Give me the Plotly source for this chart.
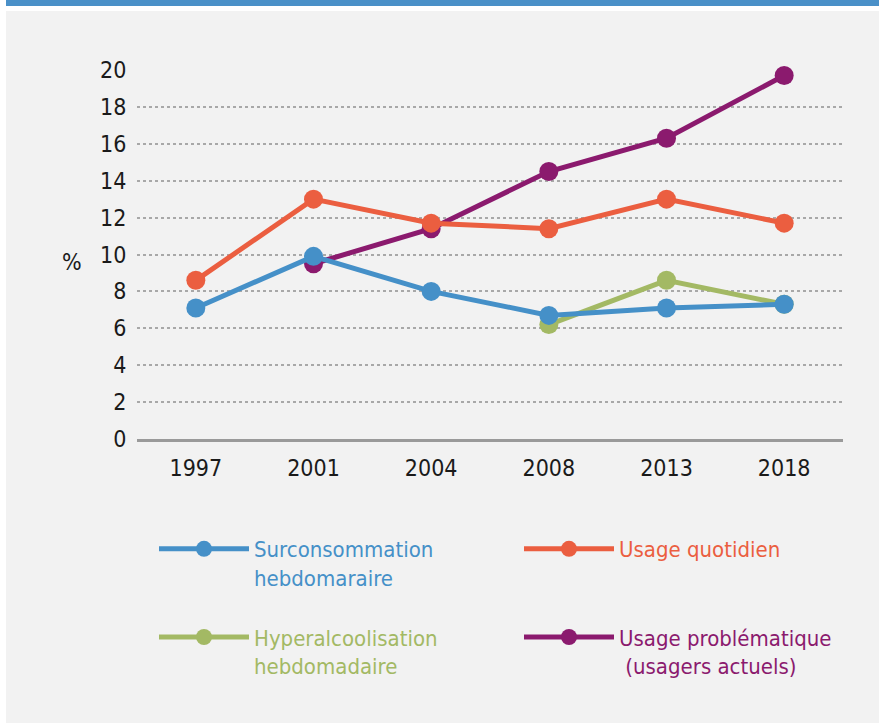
import plotly.graph_objects as go

years = ["1997", "2001", "2004", "2008", "2013", "2018"]
surconso = [7.1, 9.9, 8.0, 6.7, 7.1, 7.3]
quotidien = [8.6, 13.0, 11.7, 11.4, 13.0, 11.7]
hyperalcool = [None, None, None, 6.2, 8.6, 7.3]
problematique = [None, 9.5, 11.4, 14.5, 16.3, 19.7]

BLUE = "#4590c8"
ORANGE = "#eb5e40"
GREEN = "#a3b964"
PURPLE = "#8b1a6e"

FONT = "DejaVu Sans Condensed, DejaVu Sans, sans-serif"

W, H = 879, 724
L, R, T, B = 137, 36, 70, 285
PW, PH = W - L - R, H - T - B


def px(x):
    return (x - L) / PW


def py(y):
    return (H - B - y) / PH


def lbl(lines, color):
    return "<br>".join(f'<span style="color:{color}">{s}</span>' for s in lines)


# (values, colour, legend label, legend box, rank)
series = [
    (hyperalcool, GREEN, lbl(["Hyperalcoolisation", "hebdomadaire"], GREEN), "legend", 2),
    (problematique, PURPLE, lbl(["Usage problématique", "\u00a0(usagers actuels)"], PURPLE), "legend2", 2),
    (quotidien, ORANGE, lbl(["Usage quotidien", "\u00a0"], ORANGE), "legend2", 1),
    (surconso, BLUE, lbl(["Surconsommation", "hebdomaraire"], BLUE), "legend", 1),
]

fig = go.Figure()
for i, (vals, col, name, leg, rank) in enumerate(series):
    fig.add_trace(go.Scatter(
        x=years, y=vals, name=name, mode="lines+markers",
        line=dict(color=col, width=5),
        marker=dict(color=col, size=19),
        legend=leg, legendrank=rank, legendgroup=f"g{i}",
        cliponaxis=False, connectgaps=False,
        hoverinfo="x+y",
    ))

shapes = [
    dict(type="rect", xref="paper", yref="paper", x0=px(6), x1=px(W + 2), y0=py(723), y1=py(11),
         fillcolor="#f2f2f2", line=dict(width=0), layer="below"),
    dict(type="rect", xref="paper", yref="paper", x0=px(6), x1=px(W + 2), y0=py(6), y1=py(-2),
         fillcolor="#4a90c8", line=dict(width=0), layer="below"),
]

legend_common = dict(
    orientation="v", y=py(528), yanchor="top", xanchor="left",
    itemwidth=90, valign="top", tracegroupgap=28,
    font=dict(family=FONT, size=22), bgcolor="rgba(0,0,0,0)",
    traceorder="grouped", itemclick=False, itemdoubleclick=False,
)

fig.update_layout(
    width=W, height=H,
    margin=dict(l=L, r=R, t=T, b=B, autoexpand=False),
    paper_bgcolor="white",
    plot_bgcolor="rgba(0,0,0,0)",
    font=dict(family=FONT, size=23, color="#1a1a1a"),
    shapes=shapes,
    showlegend=True,
    legend=dict(x=px(154), **legend_common),
    legend2=dict(x=px(519), **legend_common),
    annotations=[dict(text="%", xref="paper", yref="paper", x=px(72), y=py(262),
                      xanchor="center", yanchor="middle",
                      showarrow=False, font=dict(family=FONT, size=23, color="#1a1a1a"))],
)

fig.update_xaxes(
    type="category", range=[-0.5, 5.5], showgrid=False,
    showline=True, linecolor="#9a9a9a", linewidth=2.5,
    ticks="outside", ticklen=7, tickcolor="rgba(0,0,0,0)",
    tickfont=dict(family=FONT, size=23, color="#1a1a1a"), zeroline=False,
)
fig.update_yaxes(
    range=[0, 20], tickvals=list(range(0, 21, 2)),
    showgrid=True, gridcolor="#a8a8a8", gridwidth=1.5, griddash="dot",
    zeroline=False, showline=False,
    ticks="outside", ticklen=5, tickcolor="rgba(0,0,0,0)",
    tickfont=dict(family=FONT, size=23, color="#1a1a1a"),
)

fig.write_html("out.html")
